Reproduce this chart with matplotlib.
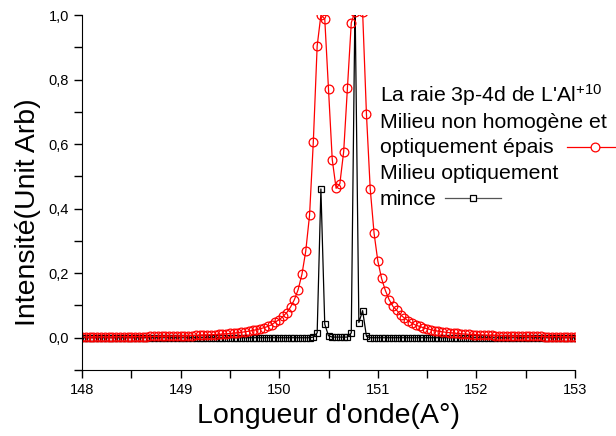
import matplotlib
matplotlib.use("Agg")
import matplotlib.pyplot as plt
from matplotlib.lines import Line2D

plt.rcParams["font.family"] = ["Liberation Sans", "DejaVu Sans"]
plt.rcParams["mathtext.fontset"] = "custom"
plt.rcParams["mathtext.rm"] = "Liberation Sans"
plt.rcParams["mathtext.it"] = "Liberation Sans"

# wavelength grid (A°)
wavelength = [
    148.000, 148.038, 148.077, 148.115, 148.154, 148.192, 148.231, 148.269, 148.308, 148.346,
    148.385, 148.423, 148.462, 148.500, 148.538, 148.577, 148.615, 148.654, 148.692, 148.731,
    148.769, 148.808, 148.846, 148.885, 148.923, 148.962, 149.000, 149.038, 149.077, 149.115,
    149.154, 149.192, 149.231, 149.269, 149.308, 149.346, 149.385, 149.423, 149.462, 149.500,
    149.538, 149.577, 149.615, 149.654, 149.692, 149.731, 149.769, 149.808, 149.846, 149.885,
    149.923, 149.962, 150.000, 150.038, 150.077, 150.115, 150.154, 150.192, 150.231, 150.269,
    150.308, 150.346, 150.385, 150.423, 150.462, 150.500, 150.538, 150.577, 150.615, 150.654,
    150.692, 150.731, 150.769, 150.808, 150.846, 150.885, 150.923, 150.962, 151.000, 151.038,
    151.077, 151.115, 151.154, 151.192, 151.231, 151.269, 151.308, 151.346, 151.385, 151.423,
    151.462, 151.500, 151.538, 151.577, 151.615, 151.654, 151.692, 151.731, 151.769, 151.808,
    151.846, 151.885, 151.923, 151.962, 152.000, 152.038, 152.077, 152.115, 152.154, 152.192,
    152.231, 152.269, 152.308, 152.346, 152.385, 152.423, 152.462, 152.500, 152.538, 152.577,
    152.615, 152.654, 152.692, 152.731, 152.769, 152.808, 152.846, 152.885, 152.923, 152.962,
    153.000,
]

# optically thick, non homogeneous medium
thick = [
    0.0021, 0.0021, 0.0022, 0.0023, 0.0023, 0.0024, 0.0025, 0.0026, 0.0027, 0.0028,
    0.0029, 0.0030, 0.0031, 0.0032, 0.0033, 0.0035, 0.0036, 0.0038, 0.0039, 0.0041,
    0.0043, 0.0045, 0.0047, 0.0050, 0.0052, 0.0055, 0.0058, 0.0061, 0.0064, 0.0068,
    0.0072, 0.0076, 0.0081, 0.0086, 0.0092, 0.0098, 0.0105, 0.0113, 0.0122, 0.0131,
    0.0142, 0.0155, 0.0168, 0.0185, 0.0203, 0.0225, 0.0249, 0.028, 0.031, 0.035,
    0.040, 0.049, 0.056, 0.066, 0.078, 0.095, 0.118, 0.149, 0.197, 0.268,
    0.38, 0.607, 0.904, 1.0, 0.988, 0.770, 0.552, 0.463, 0.477, 0.577,
    0.775, 0.976, 1.01, 1.02, 1.01, 0.692, 0.462, 0.324, 0.238, 0.184,
    0.146, 0.118, 0.097, 0.085, 0.071, 0.061, 0.053, 0.045, 0.039, 0.035,
    0.031, 0.028, 0.025, 0.022, 0.0202, 0.0184, 0.0168, 0.0155, 0.0143, 0.0132,
    0.0122, 0.0114, 0.0106, 0.0099, 0.0093, 0.0087, 0.0082, 0.0077, 0.0073, 0.0069,
    0.0065, 0.0062, 0.0059, 0.0056, 0.0053, 0.0051, 0.0049, 0.0046, 0.0044, 0.0042,
    0.0041, 0.0039, 0.0037, 0.0036, 0.0035, 0.0033, 0.0032, 0.0031, 0.0030, 0.0029,
    0.0028,
]

# optically thin medium
thin = ([0.0] * 61
        + [0.002, 0.015, 0.461, 0.042, 0.006, 0.002, 0.002, 0.002, 0.002, 0.002,
           0.015, 1.05, 0.047, 0.084, 0.004]
        + [0.0] * 55)

yticks = [0.0, 0.2, 0.4, 0.6, 0.8, 1.0]
ytick_labels = ["0,0", "0,2", "0,4", "0,6", "0,8", "1,0"]
xticks = [148, 149, 150, 151, 152, 153]

fig = plt.figure(figsize=(6.16, 4.36), dpi=100)
ax = fig.add_axes([82 / 616, 1 - 370 / 436, 493 / 616, 355 / 436])

ax.plot(wavelength, thin, color="black", lw=0.9, marker="s", ms=5,
        mfc="none", mec="black", mew=0.9)
ax.plot(wavelength, thick, color="red", lw=0.9, marker="o", ms=6.3,
        mfc="none", mec="red", mew=0.9)

ax.set_xlim(148, 153)
ax.set_ylim(-0.1, 1.0)
ax.set_xticks(xticks)
ax.set_xticks([148.5, 149.5, 150.5, 151.5, 152.5], minor=True)
ax.set_yticks(yticks, ytick_labels)
ax.set_yticks([-0.1, 0.1, 0.3, 0.5, 0.7, 0.9], minor=True)
ax.tick_params(which="both", direction="out", length=6, width=1, labelsize=10.5)
ax.spines["top"].set_visible(False)
ax.spines["right"].set_visible(False)

ax.set_xlabel("Longueur d'onde(A°)", fontsize=20.5, labelpad=4)
ax.set_ylabel("Intensité(Unit Arb)", fontsize=20.5)
ax.yaxis.set_label_coords(-0.083, 0.445)

# legend block written as text lines with sample lines
lines = [
    "La raie 3p-4d de L'Al$^{+10}$",
    "Milieu non homogène et",
    "optiquement épais",
    "Milieu optiquement",
    "mince",
]
base = 101.7
for k, txt in enumerate(lines):
    fig.text(380 / 616, 1 - (base + 25.8 * k) / 436, txt, fontsize=15.3,
             ha="left", va="baseline")

fig.add_artist(Line2D([567 / 616, 616 / 616], [1 - 146.7 / 436] * 2, color="red",
                      lw=0.9))
fig.add_artist(Line2D([595 / 616], [1 - 146.7 / 436], color="red", marker="o",
                      ms=6.3, mfc="white", mec="red", mew=0.9, lw=0))
fig.add_artist(Line2D([445 / 616, 501 / 616], [1 - 198.3 / 436] * 2, color="#555555",
                      lw=0.9))
fig.add_artist(Line2D([473 / 616], [1 - 198.3 / 436], color="black", marker="s",
                      ms=5, mfc="white", mew=0.9, lw=0))

fig.savefig("out.png", dpi=100)
